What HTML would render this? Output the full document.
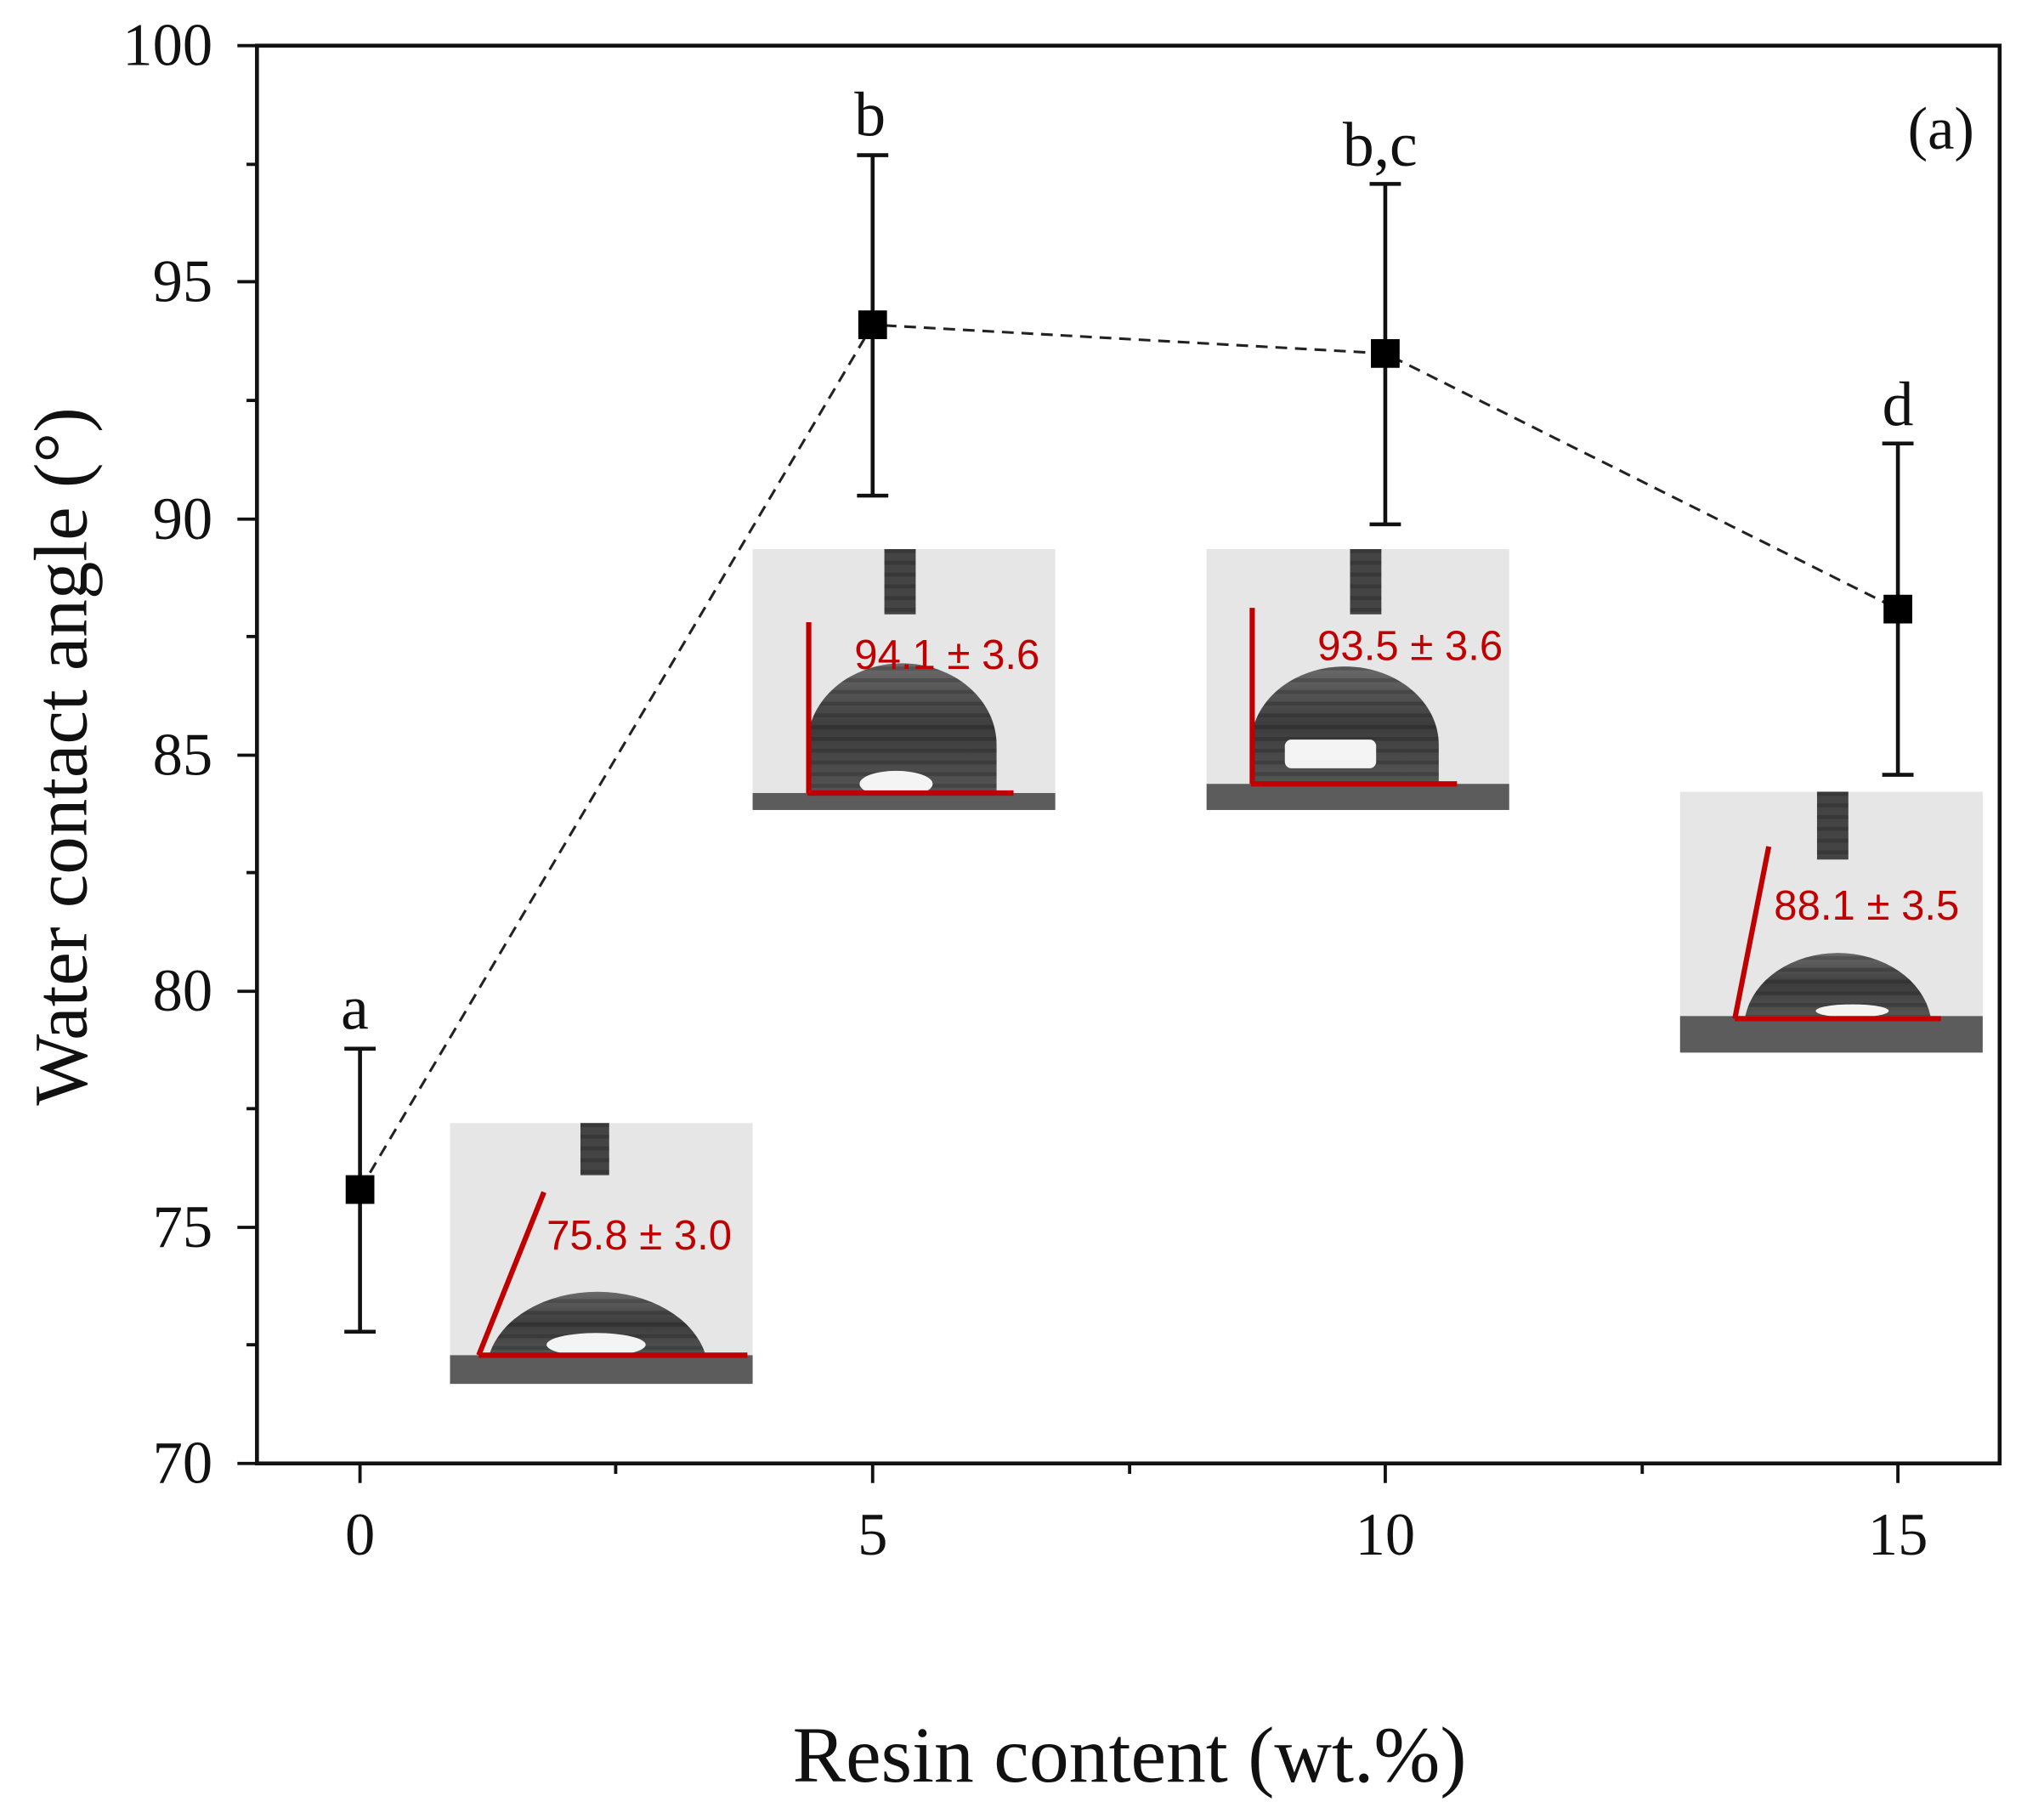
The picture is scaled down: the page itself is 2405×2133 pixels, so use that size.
<!DOCTYPE html>
<html><head><meta charset="utf-8"><style>
html,body{margin:0;padding:0;background:#fff}
svg{display:block}
.s{font-family:"Liberation Serif",serif;fill:#111}
.r{font-family:"Liberation Sans",sans-serif;fill:#c00000;font-size:32px}
</style></head><body>
<svg width="2405" height="2133" viewBox="0 0 1567 1390" preserveAspectRatio="none" xmlns="http://www.w3.org/2000/svg">
<defs>
<linearGradient id="dg" x1="0" y1="0" x2="0" y2="1">
<stop offset="0" stop-color="#6a6a6a"/><stop offset="0.5" stop-color="#3c3c3c"/><stop offset="1" stop-color="#555"/>
</linearGradient>
<pattern id="st" width="10" height="9" patternUnits="userSpaceOnUse">
<rect width="10" height="9" fill="none"/><rect y="0" width="10" height="3" fill="#000" opacity="0.18"/>
</pattern>
</defs>
<rect x="197" y="35" width="1336" height="1087" fill="none" stroke="#111" stroke-width="3"/>
<g stroke="#111" stroke-width="2.5">
<line x1="182" y1="35" x2="197" y2="35"/><line x1="182" y1="216" x2="197" y2="216"/>
<line x1="182" y1="398" x2="197" y2="398"/><line x1="182" y1="579" x2="197" y2="579"/>
<line x1="182" y1="760" x2="197" y2="760"/><line x1="182" y1="941" x2="197" y2="941"/>
<line x1="182" y1="1122" x2="197" y2="1122"/>
<line x1="189" y1="126" x2="197" y2="126"/><line x1="189" y1="307" x2="197" y2="307"/>
<line x1="189" y1="488" x2="197" y2="488"/><line x1="189" y1="669" x2="197" y2="669"/>
<line x1="189" y1="850" x2="197" y2="850"/><line x1="189" y1="1031" x2="197" y2="1031"/>
<line x1="276" y1="1122" x2="276" y2="1137"/><line x1="669" y1="1122" x2="669" y2="1137"/>
<line x1="1062" y1="1122" x2="1062" y2="1137"/><line x1="1455" y1="1122" x2="1455" y2="1137"/>
<line x1="472" y1="1122" x2="472" y2="1130"/><line x1="866" y1="1122" x2="866" y2="1130"/>
<line x1="1259" y1="1122" x2="1259" y2="1130"/>
</g>
<g class="s" font-size="46" text-anchor="end">
<text x="163" y="50">100</text><text x="163" y="231">95</text><text x="163" y="413">90</text>
<text x="163" y="594">85</text><text x="163" y="775">80</text><text x="163" y="956">75</text>
<text x="163" y="1137">70</text>
</g>
<g class="s" font-size="46" text-anchor="middle">
<text x="276" y="1192">0</text><text x="669" y="1192">5</text><text x="1062" y="1192">10</text><text x="1455" y="1192">15</text>
</g>
<text class="s" font-size="61" text-anchor="middle" x="866" y="1366">Resin content (wt.%)</text>
<text class="s" font-size="58" text-anchor="middle" transform="translate(66,580) rotate(-90)">Water contact angle (°)</text>
<g transform="translate(345,861)">
<rect width="232" height="200" fill="#e6e6e6"/>
<rect x="100" y="0" width="22" height="40" fill="#444"/><rect x="100" y="0" width="22" height="40" fill="url(#st)"/>
<path d="M30,178 A85,62 0 0 1 196,178 Z" fill="url(#dg)"/><path d="M30,178 A85,62 0 0 1 196,178 Z" fill="url(#st)"/>
<ellipse cx="112" cy="170" rx="38" ry="9" fill="#f4f4f4"/>
<rect y="178" width="232" height="22" fill="#5c5c5c"/>
<line x1="22" y1="178" x2="228" y2="178" stroke="#c00000" stroke-width="4"/>
<line x1="22" y1="178" x2="72" y2="53" stroke="#c00000" stroke-width="4"/>
<text class="r" x="74" y="97">75.8 ± 3.0</text>
</g>
<g transform="translate(577,421)">
<rect width="232" height="200" fill="#e6e6e6"/>
<rect x="101" y="0" width="24" height="50" fill="#444"/><rect x="101" y="0" width="24" height="50" fill="url(#st)"/>
<path d="M42,187 L42,150 A72,62 0 0 1 187,150 L187,187 Z" fill="url(#dg)"/><path d="M42,187 L42,150 A72,62 0 0 1 187,150 L187,187 Z" fill="url(#st)"/>
<ellipse cx="110" cy="180" rx="28" ry="10" fill="#f4f4f4"/>
<rect y="187" width="232" height="13" fill="#5c5c5c"/>
<line x1="42" y1="187" x2="200" y2="187" stroke="#c00000" stroke-width="4"/>
<line x1="43" y1="187" x2="43" y2="56" stroke="#c00000" stroke-width="4"/>
<text class="r" x="78" y="92">94.1 ± 3.6</text>
</g>
<g transform="translate(925,421)">
<rect width="232" height="200" fill="#e6e6e6"/>
<rect x="110" y="0" width="24" height="50" fill="#444"/><rect x="110" y="0" width="24" height="50" fill="url(#st)"/>
<path d="M34,180 L34,150 A72,60 0 0 1 178,150 L178,180 Z" fill="url(#dg)"/><path d="M34,180 L34,150 A72,60 0 0 1 178,150 L178,180 Z" fill="url(#st)"/>
<rect x="60" y="146" width="70" height="22" rx="5" fill="#f4f4f4"/>
<rect y="180" width="232" height="20" fill="#5c5c5c"/>
<line x1="34" y1="180" x2="192" y2="180" stroke="#c00000" stroke-width="4"/>
<line x1="35" y1="180" x2="35" y2="45" stroke="#c00000" stroke-width="4"/>
<text class="r" x="85" y="85">93.5 ± 3.6</text>
</g>
<g transform="translate(1288,607)">
<rect width="232" height="200" fill="#e6e6e6"/>
<rect x="105" y="0" width="24" height="52" fill="#444"/><rect x="105" y="0" width="24" height="52" fill="url(#st)"/>
<path d="M50,172 A72,58 0 0 1 192,172 Z" fill="url(#dg)"/><path d="M50,172 A72,58 0 0 1 192,172 Z" fill="url(#st)"/>
<ellipse cx="132" cy="168" rx="28" ry="5" fill="#f4f4f4"/>
<rect y="172" width="232" height="28" fill="#5c5c5c"/>
<line x1="42" y1="174" x2="200" y2="174" stroke="#c00000" stroke-width="4"/>
<line x1="42" y1="174" x2="68" y2="42" stroke="#c00000" stroke-width="4"/>
<text class="r" x="72" y="98">88.1 ± 3.5</text>
</g>
<polyline points="276,912 669,249 1062,271 1455,467" fill="none" stroke="#222" stroke-width="2" stroke-dasharray="9,6"/>
<g stroke="#111" stroke-width="3">
<line x1="276" y1="804" x2="276" y2="1021"/><line x1="264" y1="804" x2="288" y2="804"/><line x1="264" y1="1021" x2="288" y2="1021"/>
<line x1="669" y1="119" x2="669" y2="380"/><line x1="657" y1="119" x2="681" y2="119"/><line x1="657" y1="380" x2="681" y2="380"/>
<line x1="1062" y1="141" x2="1062" y2="402"/><line x1="1050" y1="141" x2="1074" y2="141"/><line x1="1050" y1="402" x2="1074" y2="402"/>
<line x1="1455" y1="340" x2="1455" y2="594"/><line x1="1443" y1="340" x2="1467" y2="340"/><line x1="1443" y1="594" x2="1467" y2="594"/>
</g>
<g fill="#000">
<rect x="265" y="901" width="22" height="22"/><rect x="658" y="238" width="22" height="22"/>
<rect x="1051" y="260" width="22" height="22"/><rect x="1444" y="456" width="22" height="22"/>
</g>
<g class="s" font-size="48" text-anchor="middle">
<text x="272" y="789">a</text><text x="667" y="104">b</text><text x="1058" y="127">b,c</text><text x="1455" y="326">d</text>
</g>
<text class="s" font-size="46" text-anchor="middle" x="1488" y="114">(a)</text>
</svg>
</body></html>
